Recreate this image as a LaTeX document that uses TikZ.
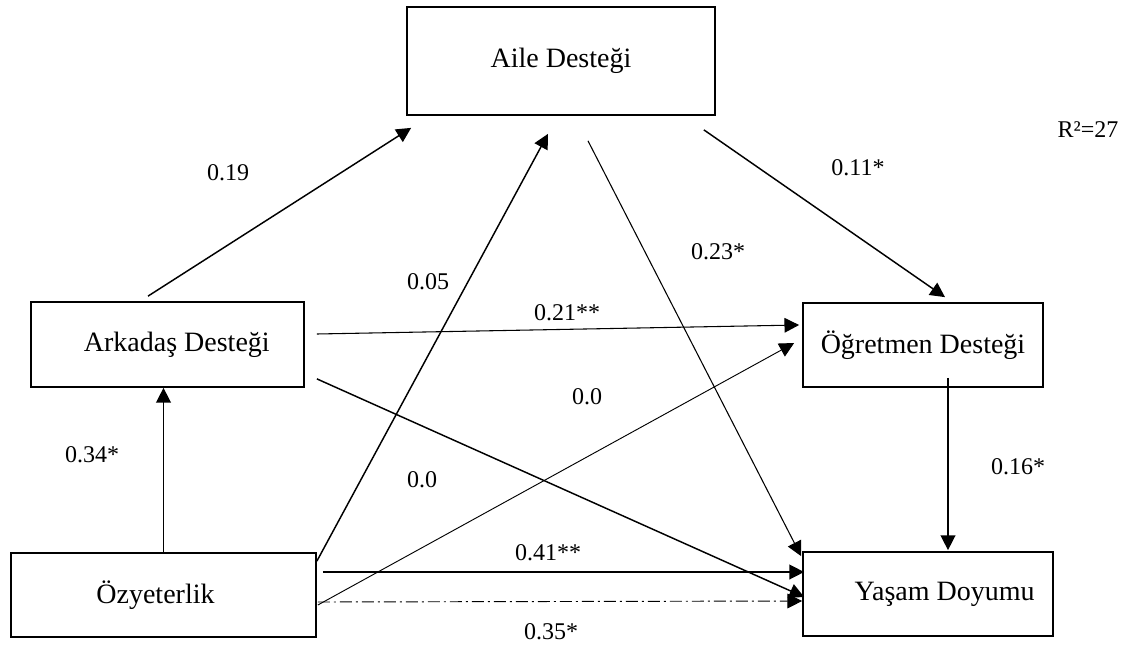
\documentclass[tikz,border=0pt]{standalone}
\usepackage{fontspec}
\setmainfont{Liberation Serif}
\usepackage{tikz}
\usetikzlibrary{arrows.meta}

\tikzset{
    var/.style={draw, line width=1.3pt, inner sep=0pt, font=\fontsize{21}{25}\selectfont},
    coef/.style={inner sep=0pt, font=\fontsize{18}{22}\selectfont},
    path/.style={->, line width=1.1pt},
    thinpath/.style={->, line width=0.8pt},
    >={Triangle[length=11pt,width=11pt]}
}

\begin{document}
\begin{tikzpicture}[x=0.75pt, y=-0.75pt]
            \useasboundingbox (0,0) rectangle (1122,650);

            % variables
            \node[var, minimum width=231pt, minimum height=81pt] (aile) at (561,61) {Aile Desteği};
            \node[var, minimum width=204.75pt, minimum height=63.75pt] (ark) at (167.5,344.5) {\hspace*{14pt}Arkadaş Desteği};
            \node[var, minimum width=228.75pt, minimum height=63pt] (oz) at (163.5,595) {Özyeterlik\hspace*{12pt}};
            \node[var, minimum width=180pt, minimum height=63pt] (ogr) at (923,345) {Öğretmen Desteği};
            \node[var, minimum width=187.5pt, minimum height=63pt] (yasam) at (928,594) {\hspace*{25pt}Yaşam Doyumu};

            % paths
            \draw[path] ([shift={(-19.5,-5)}]ark.north) -- ([shift={(5,12)}]aile.south west); % arkadas -> aile
            \draw[path] ([shift={(0,9)}]oz.north east) -- ([shift={(-13,18)}]aile.south); % oz -> aile
            \draw[thinpath] ([shift={(27,25)}]aile.south) -- ([shift={(-1,5)}]yasam.north west); % aile -> yasam
            \draw[path] ([shift={(-12,14)}]aile.south east) -- ([shift={(22,-5)}]ogr.north); % aile -> ogretmen
            \draw[thinpath] ([shift={(12,-10.5)}]ark.east) -- ([shift={(-3,-20)}]ogr.west); % arkadas -> ogretmen
            \draw[path] ([shift={(12,-9)}]ark.south east) -- ([shift={(2,3)}]yasam.west); % arkadas -> yasam
            \draw[thinpath, line width=0.7pt] ([shift={(1,10)}]oz.east) -- ([shift={(-8,-2)}]ogr.west); % oz -> ogretmen
            \draw[path] ([shift={(6,-23)}]oz.east) -- ([shift={(2,-22)}]yasam.west); % oz -> yasam
            \draw[thinpath, line width=0.7pt, dash pattern=on 9pt off 3pt on 1.5pt off 3pt] ([shift={(1,7)}]oz.east) -- ([shift={(0,7)}]yasam.west); % oz -> yasam (indirect)
            \draw[path] (oz.north) -- (oz.north |- ark.south); % oz -> arkadas
            \draw[path] ([shift={(25,-10)}]ogr.south) -- ([shift={(20,-1)}]yasam.north); % ogretmen -> yasam

            % coefficients
            \node[coef] (c019) at (228,173) {0.19};
            \node[coef] (c005) at (428,282) {0.05};
            \node[coef] (c023) at (718,252) {0.23*};
            \node[coef] (c011) at (858,168) {0.11*};
            \node[coef] (c021) at (567,313) {0.21**};
            \node[coef] (c00a) at (587,397) {0.0};
            \node[coef] (c00b) at (422,480) {0.0};
            \node[coef] (c034) at (92,455) {0.34*};
            \node[coef] (c041) at (548,553) {0.41**};
            \node[coef] (c035) at (551,632) {0.35*};
            \node[coef] (c016) at (1018,467) {0.16*};
            \node[coef] (rsq) at (1088,130) {R²=27};

        \end{tikzpicture}
\end{document}
